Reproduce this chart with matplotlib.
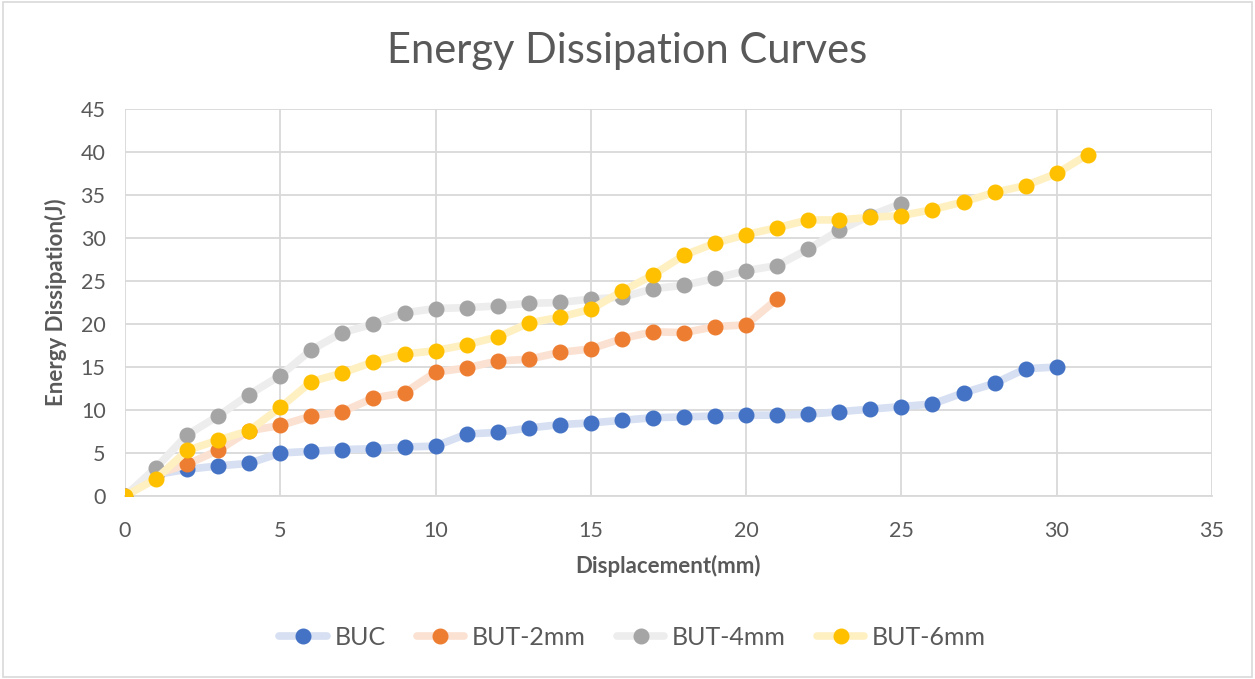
import matplotlib.pyplot as plt
from matplotlib.patches import Rectangle

# ---------------------------------------------------------------------------
# Data
# ---------------------------------------------------------------------------
buc_x = list(range(0, 31))
buc_y = [0, 2.5, 3.1, 3.5, 3.8, 5.0, 5.2, 5.4, 5.5, 5.7, 5.8, 7.2, 7.4, 7.9,
         8.3, 8.5, 8.8, 9.1, 9.2, 9.3, 9.4, 9.4, 9.5, 9.8, 10.1, 10.4, 10.7,
         12.0, 13.1, 14.8, 15.0]

but2_x = list(range(0, 22))
but2_y = [0, 2.5, 3.7, 5.3, 7.6, 8.2, 9.3, 9.8, 11.4, 12.0, 14.4, 14.9, 15.7,
          15.9, 16.7, 17.1, 18.3, 19.1, 19.0, 19.7, 19.9, 22.9]

but4_x = list(range(0, 26))
but4_y = [0, 3.3, 7.1, 9.3, 11.8, 14.0, 17.0, 19.0, 20.0, 21.3, 21.8, 21.9,
          22.1, 22.4, 22.5, 22.9, 23.1, 24.1, 24.5, 25.3, 26.2, 26.8, 28.7,
          30.9, 32.6, 34.0]

but6_x = list(range(0, 32))
but6_y = [0, 2.0, 5.3, 6.5, 7.6, 10.3, 13.3, 14.3, 15.6, 16.5, 16.9, 17.6,
          18.5, 20.1, 20.8, 21.7, 23.8, 25.7, 28.0, 29.4, 30.4, 31.2, 32.1,
          32.1, 32.4, 32.6, 33.3, 34.2, 35.3, 36.1, 37.5, 39.7]

series = [
    ("BUC", buc_x, buc_y, "#4472C4", "#D6E0F2"),
    ("BUT-2mm", but2_x, but2_y, "#ED7D31", "#FBE1D1"),
    ("BUT-4mm", but4_x, but4_y, "#A5A5A5", "#EDEDED"),
    ("BUT-6mm", but6_x, but6_y, "#FFC000", "#FFF0C2"),
]

TEXT = "#595959"
GRID = "#D9D9D9"

plt.rcParams["font.family"] = ["Lato", "DejaVu Sans"]

fig = plt.figure(figsize=(12.55, 6.79), dpi=100)
ax = fig.add_axes([0.0996, 0.2695, 0.8661, 0.570])

for label, x, y, mcol, lcol in series:
    ax.plot(x, y, color=lcol, linewidth=5.5, solid_capstyle="round",
            marker="o", markersize=10.5, markerfacecolor=mcol,
            markeredgecolor=mcol, label=label, zorder=3)

ax.set_xlim(0, 35)
ax.set_ylim(0, 45)
ax.set_xticks(range(0, 36, 5))
ax.set_yticks(range(0, 46, 5))
ax.grid(True, color=GRID, linewidth=1.3)
ax.set_axisbelow(True)
for side in ["top", "right", "left"]:
    ax.spines[side].set_visible(False)
ax.spines["bottom"].set_color(GRID)
ax.spines["bottom"].set_linewidth(1.3)
ax.tick_params(axis="x", length=0, labelsize=15.5, colors=TEXT, pad=18)
ax.tick_params(axis="y", length=0, labelsize=15.5, colors=TEXT, pad=14)

ax.set_xlabel("Displacement(mm)", fontsize=16, fontweight="bold", color=TEXT,
              labelpad=10)
ax.set_ylabel("Energy Dissipation(J)", fontsize=16, fontweight="bold",
              color=TEXT, labelpad=10)

fig.text(0.5, 0.925, "Energy Dissipation Curves", ha="center", va="center",
         fontsize=30, color=TEXT)

leg = ax.legend(loc="center", bbox_to_anchor=(0.467, -0.365), ncol=4,
                frameon=False, fontsize=18, handlelength=1.9,
                columnspacing=1.25, handletextpad=0.3)
for t in leg.get_texts():
    t.set_color(TEXT)

fig.patches.append(Rectangle((0.002, 0.003), 0.996, 0.994,
                             transform=fig.transFigure, fill=False,
                             edgecolor=GRID, linewidth=1.2))

fig.savefig("out.png", dpi=100)
